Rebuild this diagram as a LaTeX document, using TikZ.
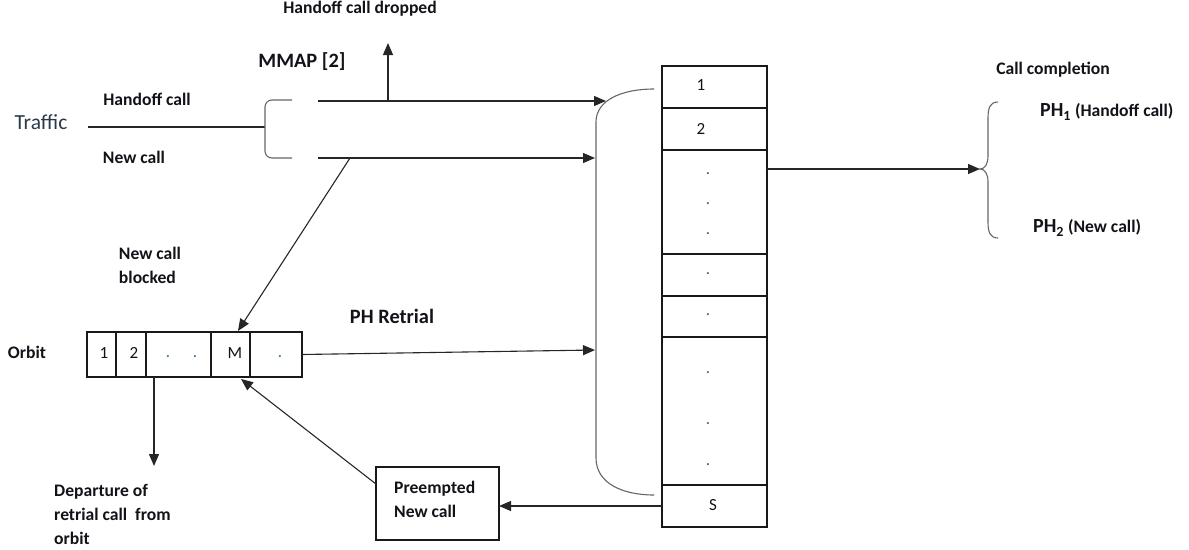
\documentclass[tikz,border=0pt]{standalone}
\usepackage{fontspec}
\setmainfont{Carlito}
\usetikzlibrary{arrows.meta}
\definecolor{txt}{HTML}{111318}
\definecolor{traf}{HTML}{2B3A4A}
\definecolor{odot}{HTML}{1F6FA8}
\definecolor{sdot}{HTML}{6A5040}
\begin{document}
\begin{tikzpicture}[x=1pt,y=-1pt,
  ln/.style={line width=1.1pt, draw=black!85},
  arr/.style={ln, -{Triangle[length=12pt,width=10pt]}},
  brk/.style={line width=1.1pt, draw=black!60},
  cell/.style={draw=black!90, line width=1.1pt, anchor=north west, inner sep=0pt, outer sep=0pt},
  lbl/.style={text=txt, inner sep=0pt, font=\bfseries\fontsize{17.6}{24}\selectfont},
  big/.style={text=txt, inner sep=0pt, font=\bfseries\fontsize{20.4}{24}\selectfont},
  num/.style={text=txt, inner sep=0pt, font=\fontsize{17}{20}\selectfont},
  sdotn/.style={text=sdot, inner sep=0pt, font=\fontsize{17}{20}\selectfont},
  odotn/.style={text=odot, inner sep=0pt, font=\fontsize{17}{20}\selectfont}
]
\useasboundingbox (0,0) rectangle (1189,549);

% ---------- server column ----------
\node[cell, minimum width=105pt, minimum height=42pt]  (c1) at (662,66)  {};
\node[cell, minimum width=105pt, minimum height=42pt]  (c2) at (662,108) {};
\node[cell, minimum width=105pt, minimum height=104pt] (c3) at (662,150) {};
\node[cell, minimum width=105pt, minimum height=42pt]  (c4) at (662,254) {};
\node[cell, minimum width=105pt, minimum height=41pt]  (c5) at (662,296) {};
\node[cell, minimum width=105pt, minimum height=148pt] (c6) at (662,337) {};
\node[cell, minimum width=105pt, minimum height=42pt]  (cS) at (662,485) {};
\node[num] (n1) at (701,85) {1};
\node[num] (n2) at (701,129) {2};
\node[num] (nS) at (713,505) {S};
\node[sdotn] (d1) at (708,174) {.};
\node[sdotn] (d2) at (708,204) {.};
\node[sdotn] (d3) at (708,234) {.};
\node[sdotn] (d4) at (708,274) {.};
\node[sdotn] (d5) at (708,315) {.};
\node[sdotn] (d6) at (708,373) {.};
\node[sdotn] (d7) at (708,424) {.};
\node[sdotn] (d8) at (708,465) {.};

% ---------- big bracket ----------
\draw[brk] (654,89) .. controls (622,89) and (596,100) .. (596,122) -- (596,458)
  .. controls (596,483) and (622,495) .. (654,495);
\coordinate (qh) at (606,101);
\coordinate (qn) at (595,158);
\coordinate (qr) at (595,350);

% ---------- traffic side ----------
\node[text=traf, inner sep=0pt, font=\fontsize{21.5}{24}\selectfont] (traffic) at (41,122) {Traffic};
\coordinate (tl) at (88,127);
\coordinate (lb) at (265,127);
\draw[ln] (tl) -- (lb);
\draw[brk, rounded corners=7pt] (292,100) -- (265,100) -- (265,158) -- (292,158);
\node[lbl] (hcall) at (147,99) {Handoff call};
\node[lbl] (ncall) at (134,157) {New call};
\coordinate (h0) at (318,101);
\coordinate (n0) at (318,158);
\draw[arr] (h0) -- (qh);
\draw[arr] (n0) -- (qn);
\coordinate (drop0) at (388,101);
\coordinate (drop1) at (388,43);
\draw[arr] (drop0) -- (drop1);
\node[lbl] (dropped) at (360,9) {Handoff call dropped};
\node[big] (mmap) at (302,62) {MMAP [2]};

% ---------- orbit ----------
\node[lbl] (orbit) at (27,352) {Orbit};
\node[cell, minimum width=29pt, minimum height=45pt] (o1) at (87,332) {};
\node[cell, minimum width=30pt, minimum height=45pt] (o2) at (116,332) {};
\node[cell, minimum width=65pt, minimum height=45pt] (o3) at (146,332) {};
\node[cell, minimum width=39pt, minimum height=45pt] (oM) at (211,332) {};
\node[cell, minimum width=52pt, minimum height=45pt] (o5) at (250,332) {};
\node[num] (on1) at (104,353) {1};
\node[num] (on2) at (134,353) {2};
\node[num] (onM) at (235,353) {M};
\node[odotn] (od1) at (168,357) {.};
\node[odotn] (od2) at (195,357) {.};
\node[odotn] (od3) at (280,357) {.};
\node[lbl, align=left] (blocked) at (150,265) {New call\\blocked};
\coordinate (nb) at (350,158);
\coordinate (mtop) at (238,331);
\draw[arr] (nb) -- (mtop);
\node[big] (retrial) at (392,316) {PH Retrial};
\draw[arr] (o5.east) -- (qr);
\coordinate (dep0) at (154,377);
\coordinate (dep1) at (154,466);
\draw[arr] (dep0) -- (dep1);
\node[lbl, align=left, anchor=north west] (departure) at (54,484) {Departure of\\retrial call\ \ from\\orbit};

% ---------- preempted ----------
\node[cell, minimum width=123pt, minimum height=73pt] (pre) at (376,467) {};
\node[lbl, align=left, anchor=north west] (pretext) at (394,481) {Preempted\\New call};
\draw[arr] (cS.west) -- (cS.west -| pre.east);
\coordinate (pl) at (376,484);
\coordinate (mbot) at (241,379);
\draw[arr] (pl) -- (mbot);

% ---------- completion ----------
\coordinate (out0) at (767,169);
\coordinate (brace) at (980,169);
\draw[arr] (out0) -- (brace);
\draw[brk] (998,102) .. controls (990,102) and (988,108) .. (988,118) -- (988,156)
  .. controls (988,164) and (985,169) .. (980,169)
  .. controls (985,169) and (988,174) .. (988,182) -- (988,222)
  .. controls (988,232) and (990,238) .. (998,238);
\node[lbl] (completion) at (1053,70) {Call completion};
\node[text=txt, inner sep=0pt, anchor=west] (ph1) at (1040,112) {\bfseries\fontsize{20}{24}\selectfont PH\textsubscript{1}\fontsize{17.6}{24}\selectfont\ (Handoff call)};
\node[text=txt, inner sep=0pt, anchor=west] (ph2) at (1033,228) {\bfseries\fontsize{20}{24}\selectfont PH\textsubscript{2}\fontsize{17.6}{24}\selectfont\ (New call)};
\end{tikzpicture}
\end{document}
